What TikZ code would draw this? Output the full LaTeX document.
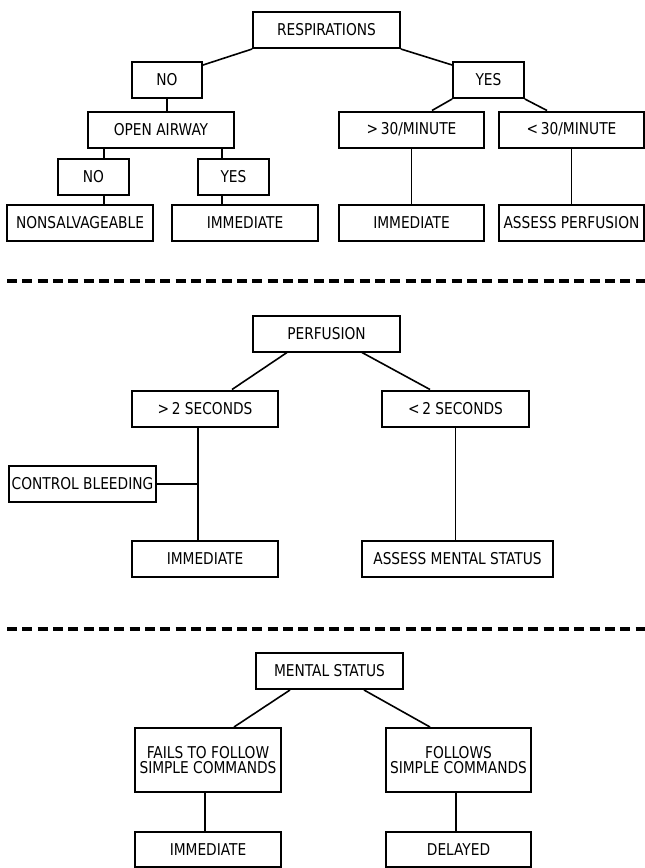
\documentclass[tikz,border=0pt]{standalone}
\usepackage{fontspec}
\setmainfont[FakeStretch=0.94]{DejaVu Sans Condensed}
\usepackage{tikz}
\usetikzlibrary{calc}

\begin{document}
\begin{tikzpicture}[x=0.75pt,y=0.75pt,yscale=-1,xscale=1,
	box/.style={draw, line width=1.5pt, inner sep=0pt, minimum height=27pt, align=center,
		font=\fontsize{12.2}{11.4}\selectfont},
	link/.style={line width=1.2pt},
	divider/.style={line width=2.6pt, dash pattern={on 7.5pt off 4pt}}]
	\useasboundingbox (0,0) rectangle (645,868);

	% Triage: respirations
	\node [box, minimum width=110pt] (resp) at (326.5,30) {RESPIRATIONS};
	\node [box, minimum width=52.5pt] (no1) at (167,80) {NO};
	\node [box, minimum width=53pt] (yes1) at (488.5,80) {YES};
	\node [box, minimum width=109.5pt] (open) at (161,129.5) {OPEN AIRWAY};
	\node [box, minimum width=109pt] (gt30) at (411.5,129.5) {>\,30/MINUTE};
	\node [box, minimum width=109pt] (lt30) at (571.5,129.5) {<\,30/MINUTE};
	\node [box, minimum width=53pt] (no2) at (93.5,177) {NO};
	\node [box, minimum width=53pt] (yes2) at (233.5,177) {YES};
	\node [box, minimum width=109.5pt] (nonsalv) at (80,223) {NONSALVAGEABLE};
	\node [box, minimum width=109.5pt] (imm1) at (245,223) {IMMEDIATE};
	\node [box, minimum width=109pt] (imm2) at (411.5,223) {IMMEDIATE};
	\node [box, minimum width=109pt] (assessp) at (571.5,223) {ASSESS PERFUSION};

	\coordinate (colA) at (104,0);
	\coordinate (colB) at (222,0);

	\draw [link] (resp.south west) -- ($(no1.north east)+(0,4)$);
	\draw [link] (resp.south east) -- ($(yes1.north west)+(0,4)$);
	\draw [link] (yes1.south west) -- ($(gt30.north)+(20.5,0)$);
	\draw [link] (yes1.south east) -- ($(lt30.north)+(-24.5,0)$);
	\draw [link] (no1.south) -- (open.north -| no1.south);
	\draw [link] (open.south -| colA) -- (no2.north -| colA);
	\draw [link] (no2.south -| colA) -- (nonsalv.north -| colA);
	\draw [link] (open.south -| colB) -- (yes2.north -| colB);
	\draw [link] (yes2.south -| colB) -- (imm1.north -| colB);
	\draw [link] (gt30.south) -- (imm2.north);
	\draw [link] (lt30.south) -- (assessp.north);

	\draw [divider] (7,281) -- (645,281);

	% Triage: perfusion
	\node [box, minimum width=110pt] (perf) at (326.5,333.5) {PERFUSION};
	\node [box, minimum width=109.5pt] (gt2) at (205,408.5) {>\,2 SECONDS};
	\node [box, minimum width=110pt] (lt2) at (455.5,408.5) {<\,2 SECONDS};
	\node [box, minimum width=110pt] (ctrl) at (82.5,484) {CONTROL BLEEDING};
	\node [box, minimum width=109.5pt] (imm3) at (205,559) {IMMEDIATE};
	\node [box, minimum width=143pt] (assessm) at (457.5,559) {ASSESS MENTAL STATUS};

	\coordinate (colC) at (198,0);

	\draw [link] ($(perf.south)+(-39.5,0)$) -- ($(gt2.north)+(27,0)$);
	\draw [link] ($(perf.south)+(35.5,0)$) -- ($(lt2.north)+(-25.5,0)$);
	\draw [link] (gt2.south -| colC) -- (imm3.north -| colC);
	\draw [link] (ctrl.east) -- (ctrl.east -| colC);
	\draw [link] (lt2.south) -- (assessm.north -| lt2.south);

	\draw [divider] (7,629) -- (645,629);

	% Triage: mental status
	\node [box, minimum width=110pt] (ment) at (329.5,671) {MENTAL STATUS};
	\node [box, minimum width=109.5pt, minimum height=48pt] (fails) at (208,760) {FAILS TO FOLLOW\\SIMPLE COMMANDS};
	\node [box, minimum width=109pt, minimum height=48pt] (follows) at (458.5,760) {FOLLOWS\\SIMPLE COMMANDS};
	\node [box, minimum width=109.5pt, minimum height=26.25pt] (imm4) at (208,849.5) {IMMEDIATE};
	\node [box, minimum width=109pt, minimum height=26.25pt] (delayed) at (458.5,849.5) {DELAYED};

	\coordinate (colD) at (205,0);
	\coordinate (colE) at (456,0);

	\draw [link] ($(ment.south)+(-39.5,0)$) -- ($(fails.north)+(26,0)$);
	\draw [link] ($(ment.south)+(34.5,0)$) -- ($(follows.north)+(-28.5,0)$);
	\draw [link] (fails.south -| colD) -- (imm4.north -| colD);
	\draw [link] (follows.south -| colE) -- (delayed.north -| colE);

\end{tikzpicture}
\end{document}
